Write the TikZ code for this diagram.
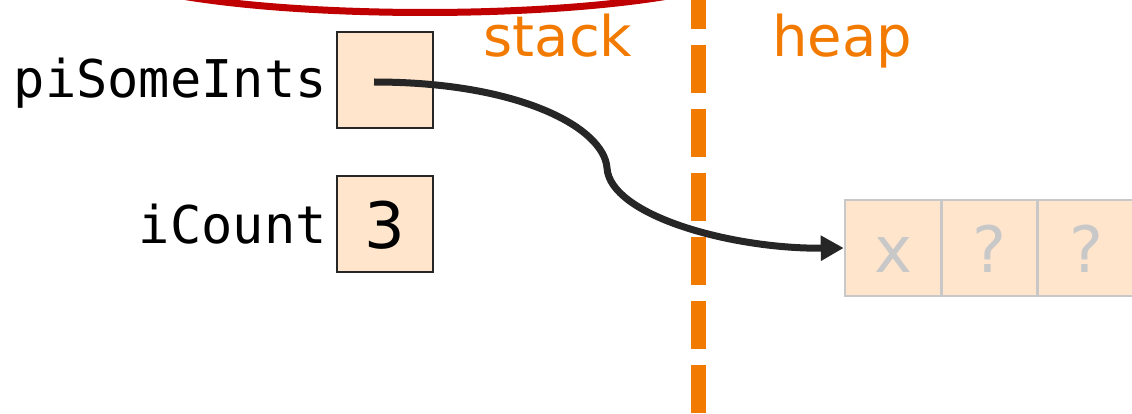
\documentclass[tikz,border=0pt]{standalone}
\usepackage{fontspec}
\newfontfamily\codefont{DejaVu Sans Mono}
\newfontfamily\valuefont{DejaVu Sans}
\usetikzlibrary{arrows.meta}
\definecolor{cellfill}{RGB}{255,229,204}
\definecolor{regionorange}{RGB}{242,122,0}
\definecolor{scopered}{RGB}{192,0,0}
\definecolor{ptrgray}{RGB}{38,38,38}
\definecolor{heapgray}{RGB}{200,200,200}
\tikzset{
  stackcell/.style={draw=ptrgray,line width=2pt,fill=cellfill,minimum size=96pt,inner sep=0pt,
    text height=48pt,text depth=0pt,font=\valuefont\fontsize{64}{70}\selectfont},
  heapcell/.style={draw=heapgray,line width=2.5pt,fill=cellfill,minimum size=96pt,inner sep=0pt,
    text height=48pt,text depth=0pt,text=heapgray,font=\valuefont\fontsize{64}{70}\selectfont},
  varname/.style={anchor=base east,inner sep=0pt,font=\codefont\fontsize{52}{58}\selectfont},
  region/.style={anchor=base,inner sep=0pt,text=regionorange,font=\valuefont\fontsize{56}{60}\selectfont},
  ptr/.style={draw=ptrgray,line width=7pt,-{Triangle[length=23pt,width=24pt]}}
}
\begin{document}
\begin{tikzpicture}[x=1pt,y=-1pt]
\useasboundingbox (0,0) rectangle (1132,414);
% stack/heap divider
\draw[regionorange,line width=15pt,dash pattern=on 48pt off 16pt] (698,-19) -- (698,430);
\node[region] (stacklabel) at (558,57) {stack};
\node[region] (heaplabel) at (842,57) {heap};
% stack variables
\node[stackcell] (pisomeints) at (385,80) {};
\node[varname] (pisomeintsname) at (327,98) {piSomeInts};
\node[stackcell] (icount) at (385,224) {3};
\node[varname] (icountname) at (327,243) {iCount};
% heap block
\node[heapcell] (heap0) at (893,248) {x};
\node[heapcell] (heap1) at (989.5,248) {?};
\node[heapcell] (heap2) at (1086,248) {?};
% pointer
\coordinate (ptrtail) at (374,82);
\draw[ptr] (ptrtail) .. controls (520,82) and (604,128) .. (607,168)
  .. controls (610,215) and (730,249) .. (heap0.west);
% scope arc
\draw[scopered,line width=7pt] (165,-7) .. controls (300,19) and (550,19) .. (685,-7);
\end{tikzpicture}
\end{document}
